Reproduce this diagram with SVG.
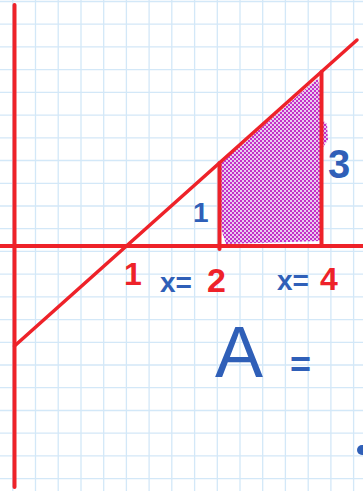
<svg xmlns="http://www.w3.org/2000/svg" width="363" height="491" viewBox="0 0 363 491">
  <defs>
    <pattern id="checker" width="4" height="4" patternUnits="userSpaceOnUse">
      <rect width="4" height="4" fill="#e8cdee"/>
      <rect width="2" height="2" fill="#c52fc9"/>
      <rect x="2" y="2" width="2" height="2" fill="#c52fc9"/>
    </pattern>
  </defs>
  <style>
    .grid { stroke: #d3e8f8; stroke-width: 1.3; fill: none; }
    .red { stroke: #ee2229; fill: none; stroke-linecap: round; }
    .blue { fill: #2f5fb8; font-family: "Liberation Sans", Arial, sans-serif; }
    .redt { fill: #ee2229; font-family: "Liberation Sans", Arial, sans-serif; }
    .b { font-weight: bold; }
  </style>
  <rect width="363" height="491" fill="#ffffff"/>
  <g id="grid">
    <path class="grid" d="M12.8 0V491M35.5 0V491M58.2 0V491M81 0V491M103.7 0V491M126.4 0V491M149.1 0V491M171.8 0V491M194.6 0V491M217.3 0V491M240 0V491M262.7 0V491M285.4 0V491M308.2 0V491M330.9 0V491M353.6 0V491"/>
    <path class="grid" d="M0 1.5H363M0 24.2H363M0 46.9H363M0 69.7H363M0 92.4H363M0 115.1H363M0 137.8H363M0 160.5H363M0 183.3H363M0 206H363M0 228.7H363M0 251.4H363M0 274.1H363M0 296.9H363M0 319.6H363M0 342.3H363M0 365H363M0 387.7H363M0 410.5H363M0 433.2H363M0 455.9H363M0 478.6H363"/>
  </g>
  <g id="shaded-area">
    <path fill="url(#checker)" d="M221 163 L318 78 L321 98 L320 118 L327 124 L328 140 L321 150 L320 241 L226 244 L222 232 L219 200 Z"/>
  </g>
  <g id="connectors">
    <line class="red" x1="14.5" y1="5" x2="14.5" y2="487" stroke-width="4"/>
    <line class="red" x1="0" y1="246" x2="363" y2="246" stroke-width="4"/>
    <line class="red" x1="14.5" y1="346" x2="357" y2="40" stroke-width="3.5"/>
    <line class="red" x1="219.5" y1="163" x2="219.5" y2="249" stroke-width="4"/>
    <line class="red" x1="321.5" y1="72" x2="321.5" y2="246" stroke-width="4"/>
  </g>
  <g id="label-1-height">
    <text class="blue b" x="193" y="222" font-size="28">1</text>
  </g>
  <g id="label-3-height">
    <text class="blue b" x="328" y="178" font-size="40">3</text>
  </g>
  <g id="label-1-axis">
    <text class="redt b" x="124" y="285" font-size="32">1</text>
  </g>
  <g id="label-x2">
    <text class="blue b" x="160" y="292" font-size="28">x=</text>
    <text class="redt b" x="207" y="292" font-size="34">2</text>
  </g>
  <g id="label-x4">
    <text class="blue b" x="277" y="290" font-size="28">x=</text>
    <text class="redt b" x="320" y="290" font-size="32">4</text>
  </g>
  <g id="label-area">
    <text class="blue" x="215" y="377" font-size="72">A</text>
    <text class="blue b" x="290" y="377" font-size="36">=</text>
  </g>
  <g id="mark">
    <ellipse cx="362" cy="450" rx="5" ry="5" fill="#2f5fb8"/>
  </g>
</svg>
